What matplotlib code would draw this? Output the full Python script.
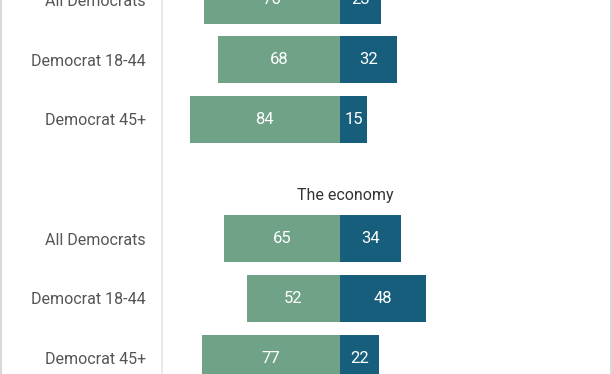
import matplotlib.pyplot as plt
from matplotlib.lines import Line2D

plt.rcParams['font.family'] = ['Roboto', 'DejaVu Sans']

# rows as shown (top part of chart is cropped)
labels = ['All Democrats', 'Democrat 18-44', 'Democrat 45+',
          'All Democrats', 'Democrat 18-44', 'Democrat 45+']
left_vals = [76, 68, 84, 65, 52, 77]
right_vals = [23, 32, 15, 34, 48, 22]
group_title = 'The economy'

# positions: two groups of three rows with a gap slot between
positions = [0, 1, 2, 4, 5, 6]

green = '#70a288'
blue = '#175e7c'

fig = plt.figure(figsize=(6.12, 3.74), dpi=100)
ax = fig.add_axes([162 / 612, 0, (611 - 162) / 612, 1])

ax.barh(positions, [-v for v in left_vals], height=0.79, color=green)
ax.barh(positions, right_vals, height=0.79, color=blue)

for p, lv, rv in zip(positions, left_vals, right_vals):
    ax.text(-lv / 2, p, str(lv), ha='center', va='center', color='white', fontsize=12)
    ax.text(rv / 2, p, str(rv), ha='center', va='center', color='white', fontsize=12)

ax.text(3, 3.27, group_title, ha='center', va='center', color='#333333', fontsize=11.5)

ax.set_xlim(-99.4, 151.4)
ax.set_ylim(6.265, 0.085)
ax.set_yticks(positions)
ax.set_yticklabels(labels, fontsize=11.5, color='#555555')
ax.tick_params(axis='y', length=0, pad=11.5)
ax.set_xticks([])
for s in ['top', 'right', 'bottom']:
    ax.spines[s].set_visible(False)
ax.spines['left'].set_color('#e6e6e6')
ax.spines['left'].set_linewidth(1.2)

# outer frame lines at both sides of the image
fig.add_artist(Line2D([0.8 / 612, 0.8 / 612], [0, 1], color='#d9d9d9', lw=1.5))
fig.add_artist(Line2D([611 / 612, 611 / 612], [0, 1], color='#d9d9d9', lw=1.5))

fig.savefig('out.png', dpi=100)
